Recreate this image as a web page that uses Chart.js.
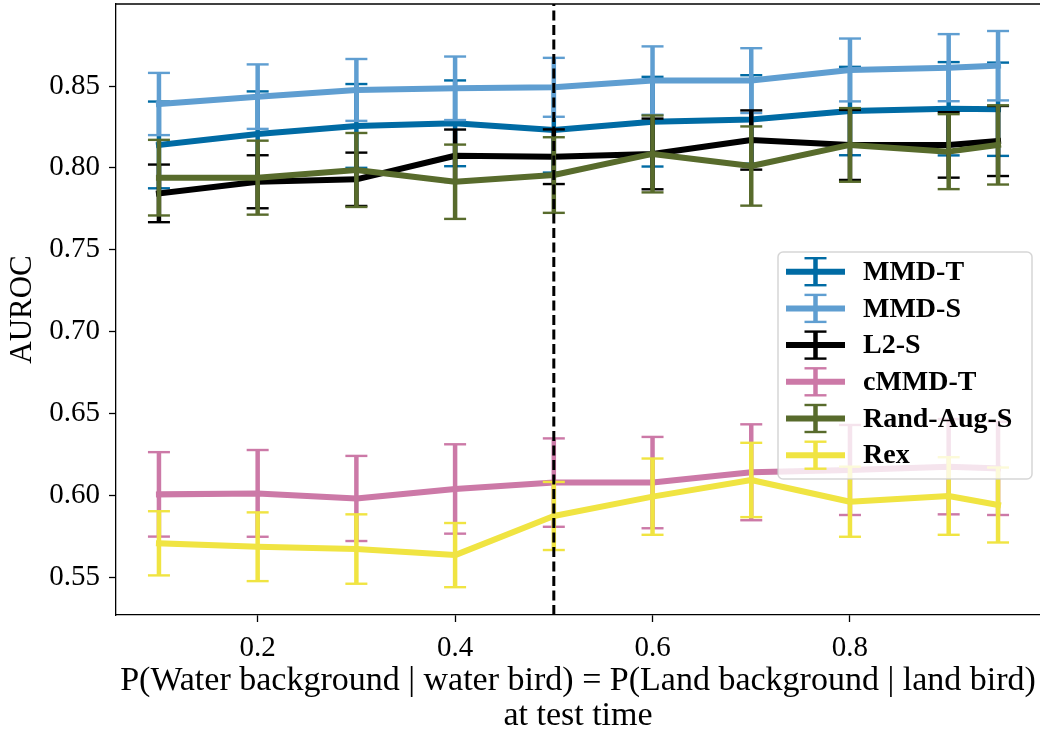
<!DOCTYPE html>
<html>
<head>
<meta charset="utf-8">
<script src="https://cdn.jsdelivr.net/npm/chart.js@4.4.1/dist/chart.umd.min.js"></script>
<style>
  html, body { margin: 0; padding: 0; background: #fff; }
</style>
</head>
<body>
<canvas id="aurocChart" width="1040" height="731"></canvas>
<script>
// P(background | bird) at test time
const probs = [0.1, 0.2, 0.3, 0.4, 0.5, 0.6, 0.7, 0.8, 0.9, 0.95];

// mean AUROC and error bar half-width per method
const mmdT = [0.814, 0.8207, 0.8256, 0.8272, 0.8231, 0.8282, 0.8296, 0.8347, 0.8361, 0.8358];
const mmdTErr = [0.0265, 0.026, 0.0256, 0.0262, 0.026, 0.0274, 0.027, 0.027, 0.0285, 0.0285];

const mmdS = [0.839, 0.8435, 0.8476, 0.8486, 0.8492, 0.8533, 0.8533, 0.8598, 0.8612, 0.8624];
const mmdSErr = [0.019, 0.0197, 0.0189, 0.0194, 0.018, 0.0209, 0.0198, 0.0192, 0.0205, 0.0212];

const l2S = [0.7844, 0.7915, 0.793, 0.8074, 0.8068, 0.8085, 0.817, 0.814, 0.814, 0.8164];
const l2SErr = [0.0176, 0.0162, 0.0163, 0.016, 0.0167, 0.0216, 0.0181, 0.0214, 0.02, 0.0214];

const cmmdT = [0.6005, 0.6011, 0.598, 0.6038, 0.6077, 0.6077, 0.614, 0.6154, 0.6174, 0.6164];
const cmmdTErr = [0.0258, 0.0265, 0.026, 0.0273, 0.027, 0.0279, 0.0293, 0.0275, 0.0291, 0.0285];

const randAugS = [0.794, 0.794, 0.7987, 0.7915, 0.7956, 0.8085, 0.8011, 0.814, 0.8099, 0.814];
const randAugSErr = [0.0231, 0.0226, 0.0226, 0.0227, 0.0231, 0.0235, 0.0242, 0.0225, 0.0229, 0.0242];

const rex = [0.5706, 0.5685, 0.5671, 0.5634, 0.5873, 0.5991, 0.6093, 0.596, 0.5995, 0.594];
const rexErr = [0.0196, 0.021, 0.0212, 0.0196, 0.0208, 0.0233, 0.0227, 0.0214, 0.0237, 0.0229];

const seriesNames = ['MMD-T', 'MMD-S', 'L2-S', 'cMMD-T', 'Rand-Aug-S', 'Rex'];
const seriesMeans = [mmdT, mmdS, l2S, cmmdT, randAugS, rex];
const seriesErrs = [mmdTErr, mmdSErr, l2SErr, cmmdTErr, randAugSErr, rexErr];
const seriesColors = ['#006BA4', '#5F9ED1', '#000000', '#CC79A7', '#586B2C', '#F0E442'];

const xTicks = [0.2, 0.4, 0.6, 0.8];
const yTicks = [0.55, 0.60, 0.65, 0.70, 0.75, 0.80, 0.85];
const balancedAt = 0.5;

const FONT = "'Liberation Serif', 'Times New Roman', serif";
Chart.defaults.font.family = FONT;
Chart.defaults.color = '#000';

const LINE_W = 6, BAR_W = 4.5, CAP_W = 2.4, CAP_LEN = 22;

const datasets = seriesNames.map((name, s) => ({
    label: name,
    data: probs.map((p, i) => ({x: p, y: seriesMeans[s][i]})),
    errs: seriesErrs[s],
    borderColor: seriesColors[s],
    backgroundColor: seriesColors[s],
    borderWidth: LINE_W,
    borderJoinStyle: 'round',
    borderCapStyle: 'square',
    pointRadius: 0,
    tension: 0,
    fill: false,
    // later methods are painted over earlier ones
    order: seriesNames.length - s
}));

// vertical bars under each line, caps on top of it
const errorBars = {
    id: 'errorBars',
    beforeDatasetDraw(chart, args) {
        const ds = chart.data.datasets[args.index];
        const {ctx, scales: {x, y}} = chart;
        ctx.save();
        ctx.strokeStyle = ds.borderColor;
        ctx.lineWidth = BAR_W;
        ctx.lineCap = 'butt';
        ds.data.forEach((p, i) => {
            const px = x.getPixelForValue(p.x);
            ctx.beginPath();
            ctx.moveTo(px, y.getPixelForValue(p.y - ds.errs[i]));
            ctx.lineTo(px, y.getPixelForValue(p.y + ds.errs[i]));
            ctx.stroke();
        });
        ctx.restore();
    },
    afterDatasetDraw(chart, args) {
        const ds = chart.data.datasets[args.index];
        const {ctx, scales: {x, y}} = chart;
        ctx.save();
        ctx.strokeStyle = ds.borderColor;
        ctx.lineWidth = CAP_W;
        ds.data.forEach((p, i) => {
            const px = x.getPixelForValue(p.x);
            [p.y - ds.errs[i], p.y + ds.errs[i]].forEach(v => {
                const py = y.getPixelForValue(v);
                ctx.beginPath();
                ctx.moveTo(px - CAP_LEN / 2, py);
                ctx.lineTo(px + CAP_LEN / 2, py);
                ctx.stroke();
            });
        });
        ctx.restore();
    }
};

// dashed marker at the balanced setting, plus the top frame line
const extras = {
    id: 'extras',
    afterDatasetsDraw(chart) {
        const {ctx, chartArea: a, scales: {x}} = chart;
        const px = x.getPixelForValue(balancedAt);
        ctx.save();
        ctx.strokeStyle = '#000';
        ctx.lineWidth = 3;
        ctx.setLineDash([10, 4.5]);
        ctx.beginPath();
        ctx.moveTo(px, a.bottom);
        ctx.lineTo(px, a.top);
        ctx.stroke();
        ctx.setLineDash([]);
        ctx.lineWidth = 1.3;
        ctx.beginPath();
        ctx.moveTo(a.left, a.top);
        ctx.lineTo(a.right, a.top);
        ctx.stroke();
        ctx.restore();
    }
};

// legend with errorbar-style handles
const errLegend = {
    id: 'errLegend',
    afterDraw(chart) {
        const {ctx, chartArea: a} = chart;
        const w = 254, h = 227;
        const left = a.right - w - 8, top = 252;
        ctx.save();
        ctx.beginPath();
        ctx.roundRect(left, top, w, h, 5);
        ctx.fillStyle = 'rgba(255,255,255,0.8)';
        ctx.fill();
        ctx.strokeStyle = 'rgba(204,204,204,0.8)';
        ctx.lineWidth = 1.5;
        ctx.stroke();

        const rowH = 36.7;
        seriesNames.forEach((name, s) => {
            const cy = top + 19.7 + s * rowH;
            const hx0 = left + 8, hx1 = left + 67, hc = (hx0 + hx1) / 2;
            ctx.strokeStyle = seriesColors[s];
            ctx.lineWidth = BAR_W;
            ctx.beginPath();
            ctx.moveTo(hc, cy - 13.5);
            ctx.lineTo(hc, cy + 13.5);
            ctx.stroke();
            ctx.lineWidth = CAP_W;
            [cy - 13.5, cy + 13.5].forEach(py => {
                ctx.beginPath();
                ctx.moveTo(hc - CAP_LEN / 2, py);
                ctx.lineTo(hc + CAP_LEN / 2, py);
                ctx.stroke();
            });
            ctx.lineWidth = LINE_W;
            ctx.beginPath();
            ctx.moveTo(hx0, cy);
            ctx.lineTo(hx1, cy);
            ctx.stroke();

            ctx.fillStyle = '#000';
            ctx.font = 'bold 28px ' + FONT;
            ctx.textBaseline = 'middle';
            ctx.textAlign = 'left';
            ctx.fillText(name, left + 85, cy + 1);
        });
        ctx.restore();
    }
};

new Chart(document.getElementById('aurocChart'), {
    type: 'line',
    data: {datasets: datasets},
    options: {
        responsive: false,
        animation: false,
        layout: {padding: {top: 4, right: 0, left: 0, bottom: 0}},
        plugins: {
            legend: {display: false},
            tooltip: {enabled: false}
        },
        scales: {
            x: {
                type: 'linear',
                min: 0.0565,
                max: 0.9925,
                afterBuildTicks: s => { s.ticks = xTicks.map(v => ({value: v})); },
                afterFit: s => { s.height = 116; s.paddingLeft = 0; s.paddingRight = 0; },
                grid: {drawOnChartArea: false, tickLength: 7, tickWidth: 1.3, tickColor: '#000'},
                border: {display: true, color: '#000', width: 1.3},
                ticks: {
                    padding: 8.5,
                    font: {size: 29},
                    color: '#000',
                    callback: v => v.toFixed(1)
                },
                title: {
                    display: true,
                    text: ['P(Water background | water bird) = P(Land background | land bird)', 'at test time'],
                    font: {size: 34, lineHeight: 1.03},
                    color: '#000',
                    padding: {top: 0, bottom: -3}
                }
            },
            y: {
                type: 'linear',
                min: 0.5268,
                max: 0.9001,
                afterBuildTicks: s => { s.ticks = yTicks.map(v => ({value: v})); },
                afterFit: s => { s.width = 116; s.paddingTop = 0; s.paddingBottom = 0; },
                grid: {drawOnChartArea: false, tickLength: 7, tickWidth: 1.3, tickColor: '#000'},
                border: {display: true, color: '#000', width: 1.3},
                ticks: {
                    padding: 9,
                    font: {size: 29},
                    color: '#000',
                    callback: v => v.toFixed(2)
                },
                title: {
                    display: true,
                    text: 'AUROC',
                    font: {size: 31},
                    color: '#000',
                    padding: {top: 4, bottom: 0}
                }
            }
        }
    },
    plugins: [errorBars, extras, errLegend]
});
</script>
</body>
</html>
